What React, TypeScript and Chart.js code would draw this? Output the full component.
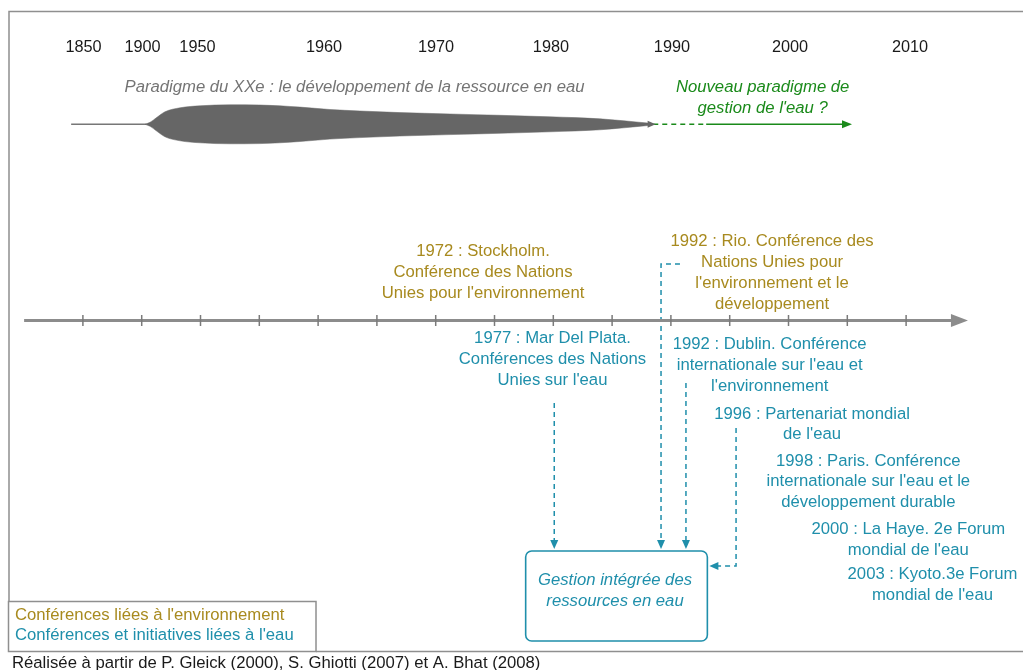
import React, { useEffect, useRef } from "react";
import { Chart, registerables } from "chart.js";
Chart.register(...registerables);

// ---------- data ----------
const axisTicks = [1940, 1945, 1950, 1955, 1960, 1965, 1970, 1975, 1980, 1985, 1990, 1995, 2000, 2005, 2010];
const topLabels = ["1850", "1900", "1950", "1960", "1970", "1980", "1990", "2000", "2010"];
const topLabelAt = [1940.05, 1945.07, 1949.74, 1960.5, 1970.03, 1979.8, 1990.09, 2000.13, 2010.33];

// XXth century paradigm "spindle": year and half-thickness
const spindleYears = [1945.28, 1945.71, 1946.3, 1946.98, 1948.26, 1949.96, 1952.51, 1955.06, 1958.46, 1961.01, 1963.56, 1966.96, 1971.22, 1975.47, 1979.72, 1983.97, 1988.06];
const spindleHalf = [0, 2, 7, 12.5, 16.5, 18.5, 19.5, 19.3, 17.2, 14.8, 13.3, 11.7, 10.3, 9, 7.5, 5.5, 1.2];

const envEvents = [
  ["1972 : Stockholm.", "Conférence des Nations", "Unies pour l'environnement"],
  ["1992 : Rio. Conférence des", "Nations Unies pour", "l'environnement et le", "développement"],
];
const waterEvents = [
  ["1977 : Mar Del Plata.", "Conférences des Nations", "Unies sur l'eau"],
  ["1992 : Dublin. Conférence", "internationale sur l'eau et", "l'environnement"],
  ["1996 : Partenariat mondial", "de l'eau"],
  ["1998 : Paris. Conférence", "internationale sur l'eau et le", "développement durable"],
  ["2000 : La Haye. 2e Forum", "mondial de l'eau"],
  ["2003 : Kyoto.3e Forum", "mondial de l'eau"],
];
const legendLabels = ["Conférences liées à l'environnement", "Conférences et initiatives liées à l'eau"];
const oldParadigm = "Paradigme du XXe : le développement de la ressource en eau";
const newParadigm = ["Nouveau paradigme de", "gestion de l'eau ?"];
const boxText = ["Gestion intégrée des", "ressources en eau"];
const sourceText = "Réalisée à partir de P. Gleick (2000), S. Ghiotti (2007) et A. Bhat (2008)";

// ---------- layout (x in years, y in px units of the y scale) ----------
const X_MIN = 1932.95;
const X_MAX = 2019.94;
const envLayout = [[1974.02, 251.5], [1998.6, 241.5]];
const waterLayout = [[1979.93, 338.5], [1998.4, 344.5], [2002.0, 414], [2006.79, 461], [2010.19, 529.5], [2012.24, 574.5]];
const connectors = [
  [[1980.08, 403], [1980.08, 541]],
  [[1990.77, 264], [1989.16, 264], [1989.16, 541]],
  [[1991.28, 383], [1991.28, 541]],
  [[1995.54, 428], [1995.54, 566], [1994.0, 566]],
];
const connectorTips = [[1980.08, 549, "down"], [1989.16, 549, "down"], [1991.28, 549, "down"], [1993.27, 566, "left"]];
const box = [1977.65, 551, 1993.1, 641];

const GOLD = "#a88a1f";
const TEAL = "#1f8fab";
const GREEN = "#1a8a1a";
const GRAY = "#666666";
const AXIS = "#8c8c8c";
const FONT = '"Liberation Sans", Arial, sans-serif';
const LH = 20.8;
const FS = 16.7;

function arrow(ctx: CanvasRenderingContext2D, x: number, y: number, dir: string, len: number, hw: number, color: string) {
  ctx.save();
  ctx.fillStyle = color;
  ctx.beginPath();
  if (dir === "right") { ctx.moveTo(x, y); ctx.lineTo(x - len, y - hw); ctx.lineTo(x - len, y + hw); }
  if (dir === "left") { ctx.moveTo(x, y); ctx.lineTo(x + len, y - hw); ctx.lineTo(x + len, y + hw); }
  if (dir === "down") { ctx.moveTo(x, y); ctx.lineTo(x - hw, y - len); ctx.lineTo(x + hw, y - len); }
  ctx.closePath();
  ctx.fill();
  ctx.restore();
}

function lines(ctx: CanvasRenderingContext2D, txt: string[], cx: number, cy: number, color: string, font: string) {
  ctx.save();
  ctx.fillStyle = color;
  ctx.font = font;
  ctx.textAlign = "center";
  ctx.textBaseline = "middle";
  txt.forEach((t, i) => ctx.fillText(t, cx, cy + i * LH));
  ctx.restore();
}

const diagramPlugin = {
  id: "diagram",
  afterDatasetsDraw(chart: any) {
    const ctx: CanvasRenderingContext2D = chart.ctx;
    const xs = chart.scales.x;
    const ys = chart.scales.y;
    const X = (v: number) => xs.getPixelForValue(v);
    const Y = (v: number) => ys.getPixelForValue(v);

    // outer frame
    ctx.save();
    ctx.strokeStyle = "#8f8f8f";
    ctx.lineWidth = 1.5;
    ctx.beginPath();
    ctx.moveTo(9, 602);
    ctx.lineTo(9, 11.5);
    ctx.lineTo(1030, 11.5);
    ctx.moveTo(316, 651.5);
    ctx.lineTo(1030, 651.5);
    ctx.stroke();
    ctx.strokeRect(8.5, 601.5, 307.5, 50);
    ctx.restore();

    // top year labels
    ctx.save();
    ctx.fillStyle = "#1a1a1a";
    ctx.font = `16.3px ${FONT}`;
    ctx.textAlign = "center";
    ctx.textBaseline = "middle";
    topLabels.forEach((t, i) => ctx.fillText(t, X(topLabelAt[i]), Y(47.5)));
    ctx.restore();

    // paradigms
    lines(ctx, [oldParadigm], X(1963.1), Y(87.5), "#747474", `italic ${FS}px ${FONT}`);
    lines(ctx, newParadigm, X(1997.8), Y(87.5), GREEN, `italic ${FS}px ${FONT}`);
    arrow(ctx, X(1988.7), Y(124.3), "right", 8, 3.5, GRAY);
    arrow(ctx, X(2005.4), Y(124.3), "right", 10, 4, GREEN);

    // main axis arrow head and ticks
    arrow(ctx, X(2015.26), Y(320.5), "right", 17, 6.5, AXIS);
    ctx.save();
    ctx.strokeStyle = "#7a7a7a";
    ctx.lineWidth = 1.5;
    axisTicks.forEach((t) => {
      ctx.beginPath();
      ctx.moveTo(X(t), Y(315));
      ctx.lineTo(X(t), Y(326));
      ctx.stroke();
    });
    ctx.restore();

    // event texts
    envEvents.forEach((ev, i) => lines(ctx, ev, X(envLayout[i][0]), Y(envLayout[i][1]), GOLD, `${FS}px ${FONT}`));
    waterEvents.forEach((ev, i) => lines(ctx, ev, X(waterLayout[i][0]), Y(waterLayout[i][1]), TEAL, `${FS}px ${FONT}`));

    // connector arrow tips
    connectorTips.forEach((c) => arrow(ctx, X(c[0] as number), Y(c[1] as number), c[2] as string, 9, 4, TEAL));

    // box
    ctx.save();
    ctx.strokeStyle = TEAL;
    ctx.lineWidth = 1.6;
    ctx.beginPath();
    (ctx as any).roundRect(X(box[0]), Y(box[1]), X(box[2]) - X(box[0]), Y(box[3]) - Y(box[1]), 6);
    ctx.stroke();
    ctx.restore();
    lines(ctx, boxText, (X(box[0]) + X(box[2])) / 2 - 1.5, Y(580.5), TEAL, `italic ${FS}px ${FONT}`);

    // legend + source
    ctx.save();
    ctx.font = `${FS}px ${FONT}`;
    ctx.textBaseline = "middle";
    ctx.textAlign = "left";
    ctx.fillStyle = GOLD;
    ctx.fillText(legendLabels[0], 15, 615);
    ctx.fillStyle = TEAL;
    ctx.fillText(legendLabels[1], 15, 635.5);
    ctx.fillStyle = "#1a1a1a";
    ctx.fillText(sourceText, 12, 663.5);
    ctx.restore();
  },
};

export default function App() {
  const ref = useRef<HTMLCanvasElement>(null);
  useEffect(() => {
    document.body.style.margin = "0";
    const upper = spindleYears.map((x, i) => ({ x, y: 124.3 - spindleHalf[i] }));
    const lower = spindleYears.map((x, i) => ({ x, y: 124.3 + spindleHalf[i] }));
    const lineDs = (data: any[], color: string, width: number, dash: number[] = []) => ({
      data,
      showLine: true,
      borderColor: color,
      borderWidth: width,
      borderDash: dash,
      pointRadius: 0,
      fill: false,
      tension: 0,
    });
    const datasets: any[] = [
      {
        data: upper,
        showLine: true,
        borderColor: GRAY,
        borderWidth: 0.5,
        backgroundColor: GRAY,
        pointRadius: 0,
        fill: "+1",
        cubicInterpolationMode: "monotone",
      },
      {
        data: lower,
        showLine: true,
        borderColor: GRAY,
        borderWidth: 0.5,
        pointRadius: 0,
        fill: false,
        cubicInterpolationMode: "monotone",
      },
      lineDs([{ x: 1939.0, y: 124.3 }, { x: 1945.4, y: 124.3 }], "#777777", 1.5),
      lineDs([{ x: 1988.5, y: 124.3 }, { x: 1993.0, y: 124.3 }], GREEN, 1.5, [5, 4]),
      lineDs([{ x: 1993.0, y: 124.3 }, { x: 2004.8, y: 124.3 }], GREEN, 1.5),
      lineDs([{ x: 1935.0, y: 320.5 }, { x: 2014.0, y: 320.5 }], AXIS, 3),
      ...connectors.map((c) => lineDs(c.map((p) => ({ x: p[0], y: p[1] })), TEAL, 1.5, [5, 4])),
    ];
    const chart = new Chart(ref.current!, {
      type: "scatter",
      data: { datasets },
      options: {
        responsive: false,
        animation: false,
        events: [],
        layout: { padding: 0 },
        plugins: { legend: { display: false }, tooltip: { enabled: false } },
        scales: {
          x: { type: "linear", display: false, min: X_MIN, max: X_MAX },
          y: { type: "linear", display: false, min: 0, max: 670, reverse: true },
        },
      },
      plugins: [diagramPlugin],
    } as any);
    return () => chart.destroy();
  }, []);
  return <canvas ref={ref} width={1023} height={670} style={{ display: "block" }} />;
}
